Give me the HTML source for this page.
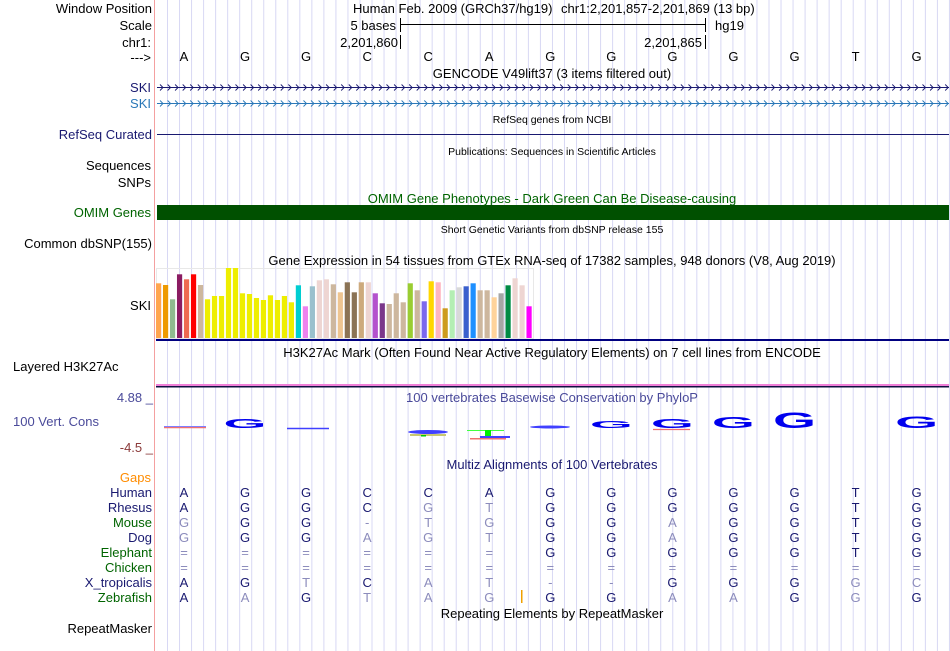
<!DOCTYPE html>
<html><head><meta charset="utf-8">
<style>
html,body{margin:0;padding:0;background:#fff;}
svg{display:block;font-family:"Liberation Sans",Arial,sans-serif;}
</style></head>
<body>
<svg id="g" width="950" height="651" viewBox="0 0 950 651" xmlns="http://www.w3.org/2000/svg">
<rect x="0" y="0" width="950" height="651" fill="#fff"/>
<g id="grid"></g>
<line x1="154.5" y1="0" x2="154.5" y2="651" stroke="#f4a0a0" stroke-width="1"/>

<g font-size="13" text-anchor="end">
<text x="152" y="13" fill="#000">Window Position</text>
<text x="152" y="30" fill="#000">Scale</text>
<text x="151" y="47" fill="#000">chr1:</text>
<text x="151" y="62" fill="#000">---&gt;</text>
<text x="151" y="92" fill="#191970">SKI</text>
<text x="151" y="108" fill="#2a78b8">SKI</text>
<text x="152" y="139" fill="#191970">RefSeq Curated</text>
<text x="151" y="170" fill="#000">Sequences</text>
<text x="151" y="187" fill="#000">SNPs</text>
<text x="151" y="217" fill="#006400">OMIM Genes</text>
<text x="152" y="248" fill="#000">Common dbSNP(155)</text>
<text x="151" y="310" fill="#000">SKI</text>
<text x="13" y="371" text-anchor="start" fill="#000">Layered H3K27Ac</text>
<text x="153" y="402" fill="#4a4a9a">4.88 _</text>
<text x="13" y="426" text-anchor="start" fill="#4a4a9a">100 Vert. Cons</text>
<text x="153" y="452" fill="#8b3a3a">-4.5 _</text>
<text x="151" y="482" fill="#ff8c00">Gaps</text>
<text x="152" y="633" fill="#000">RepeatMasker</text>
</g>
<g id="species" font-size="13" text-anchor="end"></g>

<g font-size="13" fill="#000">
<text x="353" y="13">Human Feb. 2009 (GRCh37/hg19)</text>
<text x="561" y="13">chr1:2,201,857-2,201,869 (13 bp)</text>
<text x="396" y="30" text-anchor="end">5 bases</text>
<line x1="400.5" y1="18" x2="400.5" y2="32" stroke="#000"/>
<line x1="400" y1="24.5" x2="706" y2="24.5" stroke="#000"/>
<line x1="705.5" y1="18" x2="705.5" y2="32" stroke="#000"/>
<text x="715" y="30">hg19</text>
<text x="398" y="47" text-anchor="end">2,201,860</text>
<line x1="400.5" y1="35" x2="400.5" y2="49" stroke="#000"/>
<text x="702" y="47" text-anchor="end">2,201,865</text>
<line x1="705.5" y1="35" x2="705.5" y2="49" stroke="#000"/>
</g>
<g id="bases" font-size="13" fill="#000" text-anchor="middle"></g>

<g font-size="13" text-anchor="middle">
<text x="552" y="78" fill="#000">GENCODE V49lift37 (3 items filtered out)</text>
<text x="552" y="123" font-size="10.5" fill="#000">RefSeq genes from NCBI</text>
<text x="552" y="155" font-size="10.5" fill="#000">Publications: Sequences in Scientific Articles</text>
<text x="552" y="203" fill="#006400">OMIM Gene Phenotypes - Dark Green Can Be Disease-causing</text>
<text x="552" y="233" font-size="10.5" fill="#000">Short Genetic Variants from dbSNP release 155</text>
<text x="552" y="265" fill="#000">Gene Expression in 54 tissues from GTEx RNA-seq of 17382 samples, 948 donors (V8, Aug 2019)</text>
<text x="552" y="357" fill="#000">H3K27Ac Mark (Often Found Near Active Regulatory Elements) on 7 cell lines from ENCODE</text>
<text x="552" y="402" fill="#4a4a9a">100 vertebrates Basewise Conservation by PhyloP</text>
<text x="552" y="469" fill="#191970">Multiz Alignments of 100 Vertebrates</text>
<text x="552" y="618" fill="#000">Repeating Elements by RepeatMasker</text>
</g>

<g id="genes">
<line x1="157" y1="87.5" x2="949" y2="87.5" stroke="#191970"/>
<line x1="157" y1="103.5" x2="949" y2="103.5" stroke="#2a78b8"/>
<line x1="157" y1="134.5" x2="949" y2="134.5" stroke="#191970"/>
<rect x="157" y="205" width="792" height="15" fill="#005000"/>
</g>
<g id="arrows"></g>

<rect x="156.5" y="268.5" width="377" height="70" fill="none" stroke="#e8e8e8"/>
<g id="gtex"></g>
<rect x="156" y="339" width="793" height="2" fill="#000080"/>

<rect x="156" y="384" width="793" height="2" fill="#f080d8"/>
<rect x="156" y="386" width="793" height="1.5" fill="#101040"/>

<g id="phylop">
<line x1="164" y1="427.5" x2="206" y2="427.5" stroke="#f07070" stroke-width="1.5"/>
<line x1="164" y1="426.5" x2="206" y2="426.5" stroke="#8080ff" stroke-width="1"/>
<line x1="287" y1="428.5" x2="329" y2="428.5" stroke="#4040ff" stroke-width="1.5"/>
<ellipse cx="428" cy="432" rx="20" ry="2" fill="#4040ff"/>
<rect x="410" y="434" width="36" height="2" fill="#c8c870"/>
<rect x="421" y="435" width="5" height="1.5" fill="#00cc00"/>
<line x1="467" y1="430.5" x2="504" y2="430.5" stroke="#40ff40" stroke-width="1"/>
<rect x="485" y="430" width="6" height="6" fill="#00ee00"/>
<rect x="480" y="436" width="30" height="2" fill="#4040ff"/>
<rect x="470" y="438" width="36" height="1.5" fill="#f07070"/>
<ellipse cx="550" cy="427" rx="20" ry="1.5" fill="#4040ff"/>
<line x1="653" y1="429.5" x2="690" y2="429.5" stroke="#f07070" stroke-width="1.2"/>
</g>
<g id="logo" fill="#0000ee" font-weight="bold"></g>

<g id="maf" font-size="13" text-anchor="middle"></g>
<rect x="521" y="590" width="1.5" height="13" fill="#f0a000"/>
</svg>

<script>
// ---- data ----
const refBases = ["A","G","G","C","C","A","G","G","G","G","G","T","G"];
const tissues = ["Adipose-Subcutaneous","Adipose-Visceral","Adrenal Gland","Artery-Aorta","Artery-Coronary","Artery-Tibial","Bladder","Brain-Amygdala","Brain-ACC","Brain-Caudate","Brain-Cerebellar Hemisphere","Brain-Cerebellum","Brain-Cortex","Brain-Frontal Cortex","Brain-Hippocampus","Brain-Hypothalamus","Brain-Nucleus Accumbens","Brain-Putamen","Brain-Spinal Cord","Brain-Substantia Nigra","Breast","Cells-EBV Lymphocytes","Cells-Fibroblasts","Cervix-Ectocervix","Cervix-Endocervix","Colon-Sigmoid","Colon-Transverse","Esophagus-GE Junction","Esophagus-Mucosa","Esophagus-Muscularis","Fallopian Tube","Heart-Atrial","Heart-Left Ventricle","Kidney-Cortex","Kidney-Medulla","Liver","Lung","Minor Salivary Gland","Muscle-Skeletal","Nerve-Tibial","Ovary","Pancreas","Pituitary","Prostate","Skin-Not Sun Exposed","Skin-Sun Exposed","Small Intestine","Spleen","Stomach","Testis","Thyroid","Uterus","Vagina","Whole Blood"];
const tpm = [54.7,53,38.7,63.7,58.7,63.7,53,38.7,42,42,72,72,44.7,44,40,38,42.7,38,42,35.7,52.7,31.7,51.7,57.7,58.7,53.7,45.7,55.7,45.7,55.7,55.7,44.7,34.7,34,44.7,35.7,54.7,47.7,36.7,56.7,55.7,29.7,47.7,50.7,51.7,54.7,47.7,47.7,40.7,44.7,52.7,59.7,52.7,31.7];
const tissueColors = ["#FFA54F","#EE9A00","#8FBC8F","#8B1C62","#EE6A50","#FF0000","#CDB79E","#EEEE00","#EEEE00","#EEEE00","#EEEE00","#EEEE00","#EEEE00","#EEEE00","#EEEE00","#EEEE00","#EEEE00","#EEEE00","#EEEE00","#EEEE00","#00CED1","#EE82EE","#9AC0CD","#EED5D2","#EED5D2","#CDB79E","#EEC591","#8B7355","#8B7355","#CDAA7D","#EED5D2","#B452CD","#7A378B","#CDB79E","#CDB79E","#CDB79E","#9ACD32","#CDB79E","#7B68EE","#FFD700","#FFB6C1","#CD9B1D","#B4EEB4","#D9D9D9","#3A5FCD","#1E90FF","#CDB79E","#CDB79E","#FFD39B","#A6A6A6","#008B45","#EED5D2","#EED5D2","#FF00FF"];
const logoBases = [1,7,8,9,10,12];
const logoHeights = [9,7,9,11,16,12];
const species = ["Human","Rhesus","Mouse","Dog","Elephant","Chicken","X_tropicalis","Zebrafish"];
const speciesColors = ["#191970","#191970","#006400","#191970","#006400","#006400","#191970","#006400"];
const alignRows = ["AGGCCAGGGGGTG","AGGCGTGGGGGTG","GGG-TGGGAGGTG","GGGAGTGGAGGTG","======GGGGGTG","=============","AGTCAT--GGGGC","AAGTAGGGAAGGG"];
const alignLight = ["0000000000000","0000110000000","1001110010000","1001110010000","1111110000000","1111111111111","0010111100011","0101110011010"];

const NS = "http://www.w3.org/2000/svg";
function mk(tag, attrs, parent){ const e=document.createElementNS(NS,tag); for(const k in attrs) e.setAttribute(k,attrs[k]); parent.appendChild(e); return e; }
const baseX = i => 184 + i*61.05;

const grid=document.getElementById('grid');
for(let x=167.5;x<950;x+=12.03){
  const l=mk('line',{x1:x,y1:0,x2:x,y2:651,stroke:'#d8d8f4','stroke-width':1},grid);
  
  
}
const bg=document.getElementById('bases');
refBases.forEach((b,i)=>{
  const t=mk('text',{x:baseX(i),y:61},bg); t.textContent=b;
  
  
});
const ag=document.getElementById('arrows');
[[87.5,'#191970'],[103.5,'#2a78b8']].forEach(([y,c])=>{
  let d='';
  for(let x=160;x<948;x+=7.55){ d+='M'+x.toFixed(1)+','+(y-3)+'L'+(x+3).toFixed(1)+','+y+'L'+x.toFixed(1)+','+(y+3); }
  const p=mk('path',{d:d,fill:'none',stroke:c,'stroke-width':0.9},ag);
  
  
});
const gg=document.getElementById('gtex');
const gBase=338, gTop=268, gMax=70;
const yG = v => gBase - Math.min(v,gMax)/gMax*(gBase-gTop);
tpm.forEach((v,i)=>{
  const y=yG(v);
  const r=mk('rect',{x:156+i*6.99,y:y,width:5.2,height:gBase-y,fill:tissueColors[i]},gg);
  
  
  const t=mk('title',{},r); t.textContent=tissues[i]+': '+v;
});
const lg=document.getElementById('logo');
logoBases.forEach((bi,k)=>{
  const h=logoHeights[k];
  const t=mk('text',{x:baseX(bi)-21.5,y:428,'font-size':(h/0.72).toFixed(1),textLength:43,lengthAdjust:'spacingAndGlyphs'},lg);
  t.textContent=refBases[bi];
  
  
});
const sg=document.getElementById('species'), mg=document.getElementById('maf');
species.forEach((s,r)=>{
  const y=497+r*15;
  const t=mk('text',{x:152,y:y,fill:speciesColors[r]},sg); t.textContent=s;
  
  
  for(let i=0;i<alignRows[r].length;i++){
    const c=mk('text',{x:baseX(i),y:y,fill:alignLight[r][i]==='1'?'#8c8cbc':'#191970'},mg);
    c.textContent=alignRows[r][i];
    
    
  }
});
</script>
</body></html>
